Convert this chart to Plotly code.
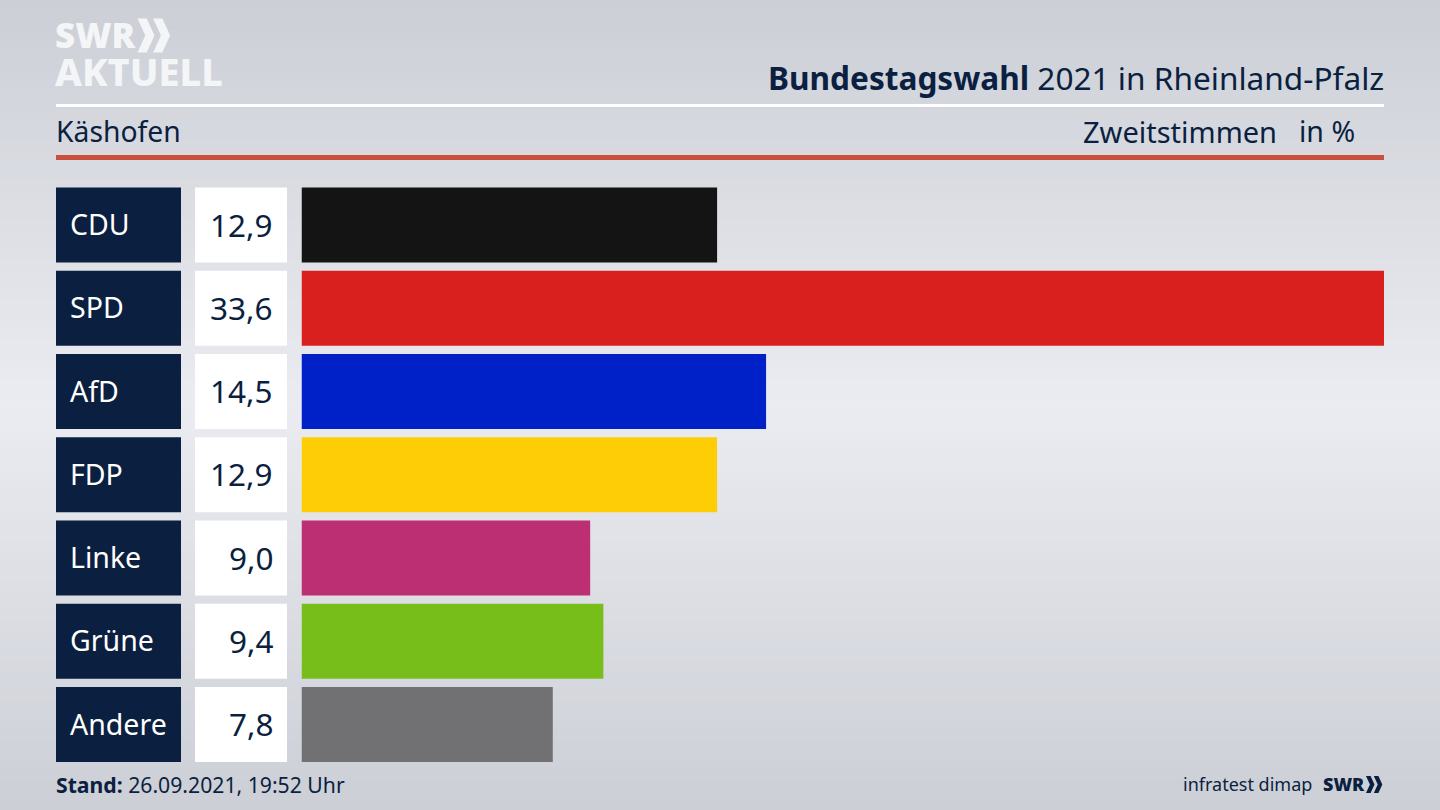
import plotly.graph_objects as go

parties = ["CDU", "SPD", "AfD", "FDP", "Linke", "Grüne", "Andere"]
values = [12.9, 33.6, 14.42, 12.9, 8.96, 9.37, 7.8]
value_labels = ["12,9", "33,6", "14,5", "12,9", "9,0", "9,4", "7,8"]
colors = ["#141414", "#d9201f", "#0020c8", "#ffcd05", "#bd2f73", "#78be1a", "#717174"]

W, H = 1440, 810
NAVY = "#0b1f40"
FONT = "Noto Sans"

def px(x):
    return x / W

def py(y):
    return 1 - y / H

def mix(a, b, t):
    return tuple(round(a[i] + (b[i] - a[i]) * t) for i in range(3))

# background: vertical gradient, built from thin bands
TOP, MID = (204, 207, 214), (235, 236, 241)
shapes = []
BANDS = 81
for i in range(BANDS):
    t = 1 - abs(i / (BANDS - 1) - 0.5) * 2
    c = mix(TOP, MID, t)
    shapes.append(dict(type="rect", xref="paper", yref="paper", x0=0, x1=1,
                       y0=py((i + 1) * H / BANDS + 1), y1=py(i * H / BANDS),
                       fillcolor=f"rgb{c}", line_width=0, layer="below"))

def rect(x0, y0, x1, y1, color):
    shapes.append(dict(type="rect", xref="paper", yref="paper", x0=px(x0), x1=px(x1),
                       y0=py(y1), y1=py(y0), fillcolor=color, line_width=0, layer="below"))

def poly(points, color):
    d = "M " + " L ".join(f"{px(x):.5f} {py(y):.5f}" for x, y in points) + " Z"
    shapes.append(dict(type="path", xref="paper", yref="paper", path=d,
                       fillcolor=color, line_width=0, layer="above"))

def chevrons(x, y, h, color):
    w = h * 0.5
    arm = h * 0.27
    for dx in (0, h * 0.46):
        poly([(x + dx, y), (x + dx + arm, y), (x + dx + w, y + h / 2),
              (x + dx + arm, y + h), (x + dx, y + h), (x + dx + w - arm, y + h / 2)], color)

rect(56, 104, 1384, 107, "#ffffff")
rect(56, 155, 1384, 160, "#c9503e")
chevrons(137.5, 18.5, 34, "#f4f5f7")
chevrons(1366, 776, 17, NAVY)

def text(x, y, s, size, color=NAVY, anchor="left", weight=None):
    font = dict(family=FONT, size=size, color=color)
    if weight:
        font["weight"] = weight
    return dict(text=s, xref="paper", yref="paper", x=px(x), y=py(y), xanchor=anchor, yanchor="middle",
                showarrow=False, font=font, borderpad=0, borderwidth=0)

annotations = [
    text(55, 35, "SWR", 35, "#f4f5f7", weight=900),
    text(55, 71, "AKTUELL", 38, "#f4f5f7", weight=800),
    text(1384, 77, "<b>Bundestagswahl</b> 2021 in Rheinland-Pfalz", 31.6, anchor="right"),
    text(56, 131, "Käshofen", 28.3),
    text(1277, 131, "Zweitstimmen", 29, anchor="right"),
    text(1355, 131, "in %", 28.5, anchor="right"),
    text(56, 784, "<b>Stand:</b> 26.09.2021, 19:52 Uhr", 21.2),
    text(1312, 784, "infratest dimap", 18, anchor="right"),
    text(1323, 784, "SWR", 18, weight=900),
]
for p, v in zip(parties, value_labels):
    annotations.append(dict(text=p, xref="paper", yref="y", x=px(68), y=p, xanchor="left", yanchor="middle",
                            yshift=1, showarrow=False, font=dict(family=FONT, size=28.5, color="#ffffff")))
    annotations.append(dict(text=v, xref="paper", yref="y", x=px(275), y=p, xanchor="right", yanchor="middle",
                            yshift=1, showarrow=False, font=dict(family=FONT, size=31.5, color=NAVY)))

fig = go.Figure()
fig.add_bar(x=[1] * 7, y=parties, orientation="h", marker=dict(color=NAVY, line_width=0), xaxis="x2", yaxis="y", hoverinfo="skip")
fig.add_bar(x=[1] * 7, y=parties, orientation="h", marker=dict(color="#ffffff", line_width=0), xaxis="x3", yaxis="y", hoverinfo="skip")
fig.add_bar(x=values, y=parties, orientation="h", marker=dict(color=colors, line_width=0), xaxis="x", yaxis="y")

hidden = dict(showgrid=False, zeroline=False, showticklabels=False, ticks="", showline=False)
fig.update_layout(
    width=W, height=H, margin=dict(l=0, r=0, t=0, b=0, autoexpand=False),
    paper_bgcolor="#e0e2e7", plot_bgcolor="rgba(0,0,0,0)", showlegend=False, bargap=0.1, barmode="overlay",
    xaxis=dict(domain=[px(301.5), px(1384)], range=[0, 33.6], **hidden),
    xaxis2=dict(domain=[px(56), px(181)], range=[0, 1], anchor="y", **hidden),
    xaxis3=dict(domain=[px(195), px(287)], range=[0, 1], anchor="y", **hidden),
    yaxis=dict(domain=[py(766.2), py(183.4)], autorange=False, range=[6.5, -0.5], type="category",
               categoryorder="array", categoryarray=parties, **hidden),
    shapes=shapes, annotations=annotations,
)
fig.write_html("out.html", config=dict(displayModeBar=False),
               post_script="document.body.style.margin='0';document.documentElement.style.overflow='hidden';")
